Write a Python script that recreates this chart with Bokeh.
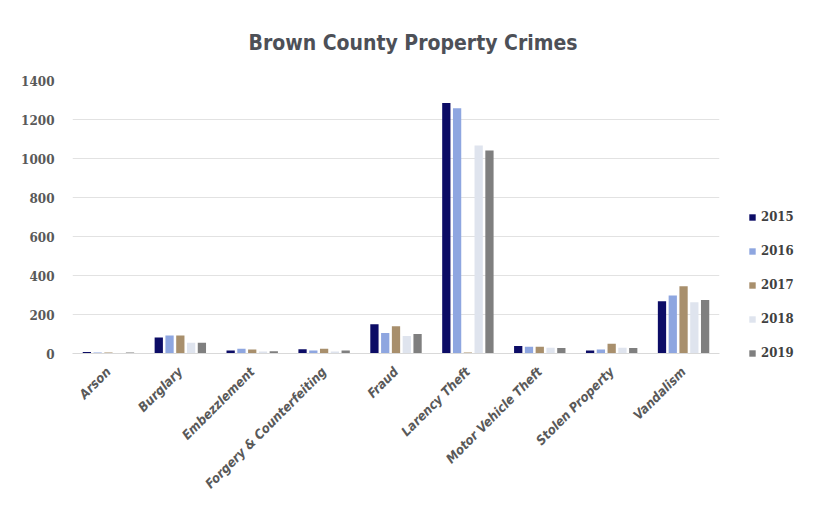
import math
from bokeh.plotting import figure
from bokeh.models import ColumnDataSource, Legend, LegendItem, FactorRange
from bokeh.transform import dodge
from bokeh.embed import file_html
from bokeh.resources import INLINE

categories = ["Arson", "Burglary", "Embezzlement", "Forgery & Counterfeiting", "Fraud",
              "Larency Theft", "Motor Vehicle Theft", "Stolen Property", "Vandalism"]
years = ["2015", "2016", "2017", "2018", "2019"]
v2015 = [8, 82, 15, 22, 150, 1284, 38, 15, 268]
v2016 = [5, 92, 25, 15, 105, 1258, 35, 20, 297]
v2017 = [5, 92, 20, 25, 140, 5, 35, 50, 345]
v2018 = [3, 55, 10, 10, 90, 1067, 30, 30, 263]
v2019 = [5, 55, 12, 15, 100, 1041, 28, 28, 275]
colors = ["#0c0c66", "#8ea6e0", "#a88f6c", "#dfe4ee", "#7f7f7f"]
y_ticks = [0, 200, 400, 600, 800, 1000, 1200, 1400]

src = ColumnDataSource(dict(cat=categories, y2015=v2015, y2016=v2016, y2017=v2017,
                            y2018=v2018, y2019=v2019))

p = figure(frame_width=647, frame_height=273, x_range=FactorRange(*categories), y_range=(0, 1400),
           output_backend="svg", toolbar_location=None,
           min_border_left=72, min_border_right=70, min_border_top=80, min_border_bottom=5)

offsets = [-0.3, -0.15, 0.0, 0.15, 0.3]
renderers = []
for yr, off, col in zip(years, offsets, colors):
    r = p.vbar(x=dodge("cat", off, range=p.x_range), top="y" + yr, width=0.115,
               source=src, fill_color=col, line_color=None)
    renderers.append(r)

p.title.text = "Brown County Property Crimes"
p.title.align = "left"
p.title.text_font = "DejaVu Sans Condensed"
p.title.text_font_size = "21px"
p.title.text_font_style = "bold"
p.title.text_color = "#4d5057"
p.title.offset = 176
p.title.standoff = 52

p.xgrid.grid_line_color = None
p.ygrid.grid_line_color = "#e2e2e2"
p.ygrid.ticker = y_ticks
p.yaxis.ticker = y_ticks
p.outline_line_color = None
p.background_fill_color = "white"

for ax in (p.xaxis, p.yaxis):
    ax.major_tick_line_color = None
    ax.minor_tick_line_color = None
    ax.major_label_text_color = "#595959"
p.yaxis.major_label_text_font = "DejaVu Serif"
p.yaxis.major_label_text_font_style = "bold"
p.yaxis.major_label_text_font_size = "12px"
p.yaxis.major_label_standoff = 12
p.yaxis.axis_line_color = None
p.xaxis.axis_line_color = "#d9d9d9"
p.xaxis.major_label_orientation = math.pi / 4
p.xaxis.major_label_text_font = "DejaVu Sans Condensed"
p.xaxis.major_label_text_font_style = "bold italic"
p.xaxis.major_label_text_font_size = "13px"
p.xaxis.major_label_standoff = 10

legend = Legend(items=[LegendItem(label=yr, renderers=[r]) for yr, r in zip(years, renderers)],
                location=(29, -7))
legend.border_line_color = None
legend.background_fill_alpha = 0
legend.glyph_width = 8
legend.glyph_height = 8
legend.label_height = 14
legend.spacing = 19
legend.label_standoff = 5
legend.label_text_font = "DejaVu Serif Condensed"
legend.label_text_font_style = "bold"
legend.label_text_font_size = "13px"
legend.label_text_color = "#404040"
legend.padding = 0
legend.margin = 0
p.add_layout(legend, "right")

open("out.html", "w").write(file_html(p, INLINE))
